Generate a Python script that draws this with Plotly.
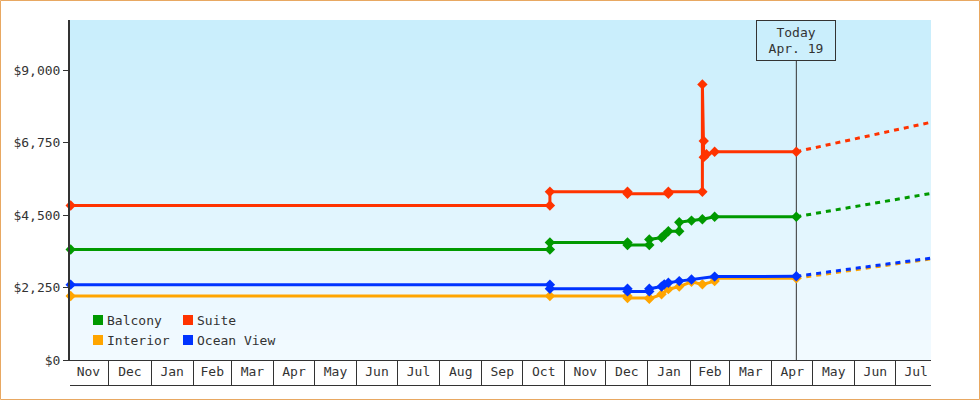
import plotly.graph_objects as go

FONT = "DejaVu Sans Mono, monospace"
INK = "#333333"

# cabin categories, legend order (two columns)
categories = ["Balcony", "Suite", "Interior", "Ocean View"]
colors = {"Balcony": "#009900", "Suite": "#ff3300",
          "Interior": "#ffa500", "Ocean View": "#0033ff"}

today = "2024-04-19"
projection_end = "2024-07-27"

price_ticks = [0, 2250, 4500, 6750, 9000]

balcony_dates = ["2022-11-03", "2023-10-21", "2023-10-21", "2023-12-17", "2023-12-17",
                 "2024-01-02", "2024-01-02", "2024-01-11", "2024-01-13", "2024-01-16",
                 "2024-01-24", "2024-01-24", "2024-02-02", "2024-02-10", "2024-02-19",
                 "2024-04-19"]
balcony_prices = [3430, 3430, 3650, 3650, 3570,
                  3570, 3745, 3800, 3880, 4000,
                  4000, 4280, 4330, 4370, 4450,
                  4450]

suite_dates = ["2022-11-03", "2023-10-21", "2023-10-21", "2023-12-17", "2023-12-17",
               "2024-01-16", "2024-01-16", "2024-02-10", "2024-02-10", "2024-02-11",
               "2024-02-11", "2024-02-13", "2024-02-19", "2024-04-19"]
suite_prices = [4800, 4800, 5225, 5225, 5165,
                5165, 5225, 5225, 8560, 6800,
                6300, 6390, 6470, 6470]

interior_dates = ["2022-11-03", "2023-10-21", "2023-12-17", "2023-12-17", "2024-01-02",
                  "2024-01-02", "2024-01-11", "2024-01-16", "2024-01-24", "2024-02-02",
                  "2024-02-10", "2024-02-19", "2024-02-19", "2024-04-19"]
interior_prices = [1990, 1990, 1990, 1925, 1925,
                   1900, 2040, 2200, 2280, 2430,
                   2350, 2450, 2540, 2540]

ocean_dates = ["2022-11-03", "2023-10-21", "2023-10-21", "2023-12-17", "2023-12-17",
               "2024-01-02", "2024-01-02", "2024-01-11", "2024-01-13", "2024-01-16",
               "2024-01-24", "2024-02-02", "2024-02-19", "2024-04-19"]
ocean_prices = [2340, 2340, 2215, 2215, 2130,
                2130, 2215, 2280, 2350, 2400,
                2450, 2500, 2590, 2600]

# dotted projection from today's price to the end of the axis
projection_prices = {"Balcony": 5175, "Suite": 7385, "Interior": 3140, "Ocean View": 3165}

history = {
    "Interior": (interior_dates, interior_prices),
    "Ocean View": (ocean_dates, ocean_prices),
    "Balcony": (balcony_dates, balcony_prices),
    "Suite": (suite_dates, suite_prices),
}

# plot area in pixels: x 70..931, y 20..360
L, R, T, B = 70, 931, 20, 360


def px(x):
    return (x - L) / (R - L)


def py(y):
    return (B - y) / (B - T)


fig = go.Figure()

for name, (dates, prices) in history.items():
    fig.add_trace(go.Scatter(
        x=dates, y=prices, name=name, mode="lines+markers",
        line=dict(color=colors[name], width=3),
        marker=dict(symbol="diamond", size=8, color=colors[name]),
        cliponaxis=False, showlegend=False,
    ))
    fig.add_trace(go.Scatter(
        x=[today, projection_end], y=[prices[-1], projection_prices[name]],
        mode="lines", line=dict(color=colors[name], width=3, dash="5px,5px"),
        showlegend=False, hoverinfo="skip",
    ))

shapes = []
# vertical gradient background of the plot area
top_rgb, bottom_rgb = (201, 238, 252), (242, 250, 255)
bands = 34
for i in range(bands):
    f = i / (bands - 1)
    c = tuple(round(a + (b - a) * f) for a, b in zip(top_rgb, bottom_rgb))
    shapes.append(dict(type="rect", xref="paper", yref="paper", layer="below",
                       x0=0, x1=1, y0=1 - (i + 1) / bands, y1=1 - i / bands,
                       fillcolor="rgb(%d,%d,%d)" % c, line=dict(width=0)))

# today marker line up to its label box
shapes.append(dict(type="line", xref="x", yref="paper", layer="below",
                   x0=today, x1=today, y0=0, y1=py(61),
                   line=dict(color=INK, width=1)))
# bottom edge of the month boxes
shapes.append(dict(type="line", xref="paper", yref="paper",
                   x0=0, x1=1, y0=py(385.5), y1=py(385.5),
                   line=dict(color=INK, width=1)))
# outer frame
shapes.append(dict(type="rect", xref="paper", yref="paper",
                   x0=px(0.5), x1=px(979.5), y0=py(399.5), y1=py(0.5),
                   line=dict(color="#e8a862", width=1)))

annotations = [dict(
    x=today, xref="x", y=1, yref="paper", yanchor="top", xanchor="center",
    text="Today<br>Apr. 19", showarrow=False, align="center",
    font=dict(family=FONT, size=13, color=INK),
    bordercolor=INK, borderwidth=1, borderpad=2, width=74, height=35,
)]

# legend drawn in two columns at the lower left
legend_pos = {"Balcony": (93, 320), "Suite": (183, 320),
              "Interior": (93, 340), "Ocean View": (183, 340)}
for name in categories:
    lx, ly = legend_pos[name]
    shapes.append(dict(type="rect", xref="paper", yref="paper",
                       x0=px(lx), x1=px(lx + 10), y0=py(ly + 5), y1=py(ly - 5),
                       fillcolor=colors[name], line=dict(width=0)))
    annotations.append(dict(
        x=px(lx + 12), y=py(ly), xref="paper", yref="paper",
        xanchor="left", yanchor="middle", showarrow=False, text=name,
        font=dict(family=FONT, size=13, color=INK),
    ))

fig.update_xaxes(
    type="date", range=["2022-11-02 12:00", "2024-07-26 22:00"],
    dtick="M1", tick0="2022-11-01", tickformat="%b", ticklabelmode="period",
    ticks="outside", ticklen=25, tickwidth=1, tickcolor=INK,
    ticklabelstandoff=-26,
    showline=True, linecolor=INK, linewidth=1, showgrid=False, zeroline=False,
    tickfont=dict(family=FONT, size=13, color=INK),
)
fig.update_yaxes(
    range=[0, 10560], tickmode="array", tickvals=price_ticks,
    ticktext=["&#36;{:,}".format(v) for v in price_ticks],
    ticks="outside", ticklen=5, tickwidth=1, tickcolor=INK,
    showline=True, linecolor=INK, linewidth=2, showgrid=False, zeroline=False,
    tickfont=dict(family=FONT, size=13, color=INK),
)
fig.update_layout(
    width=980, height=400,
    margin=dict(l=L, r=980 - R, t=T, b=400 - B),
    paper_bgcolor="white", plot_bgcolor="white",
    shapes=shapes, annotations=annotations,
    showlegend=False, hovermode="closest",
)

# the page's default body margin would shift the chart by 8px
fig.write_html("out.html", config={"displayModeBar": False},
               post_script="document.body.style.margin = '0';")
